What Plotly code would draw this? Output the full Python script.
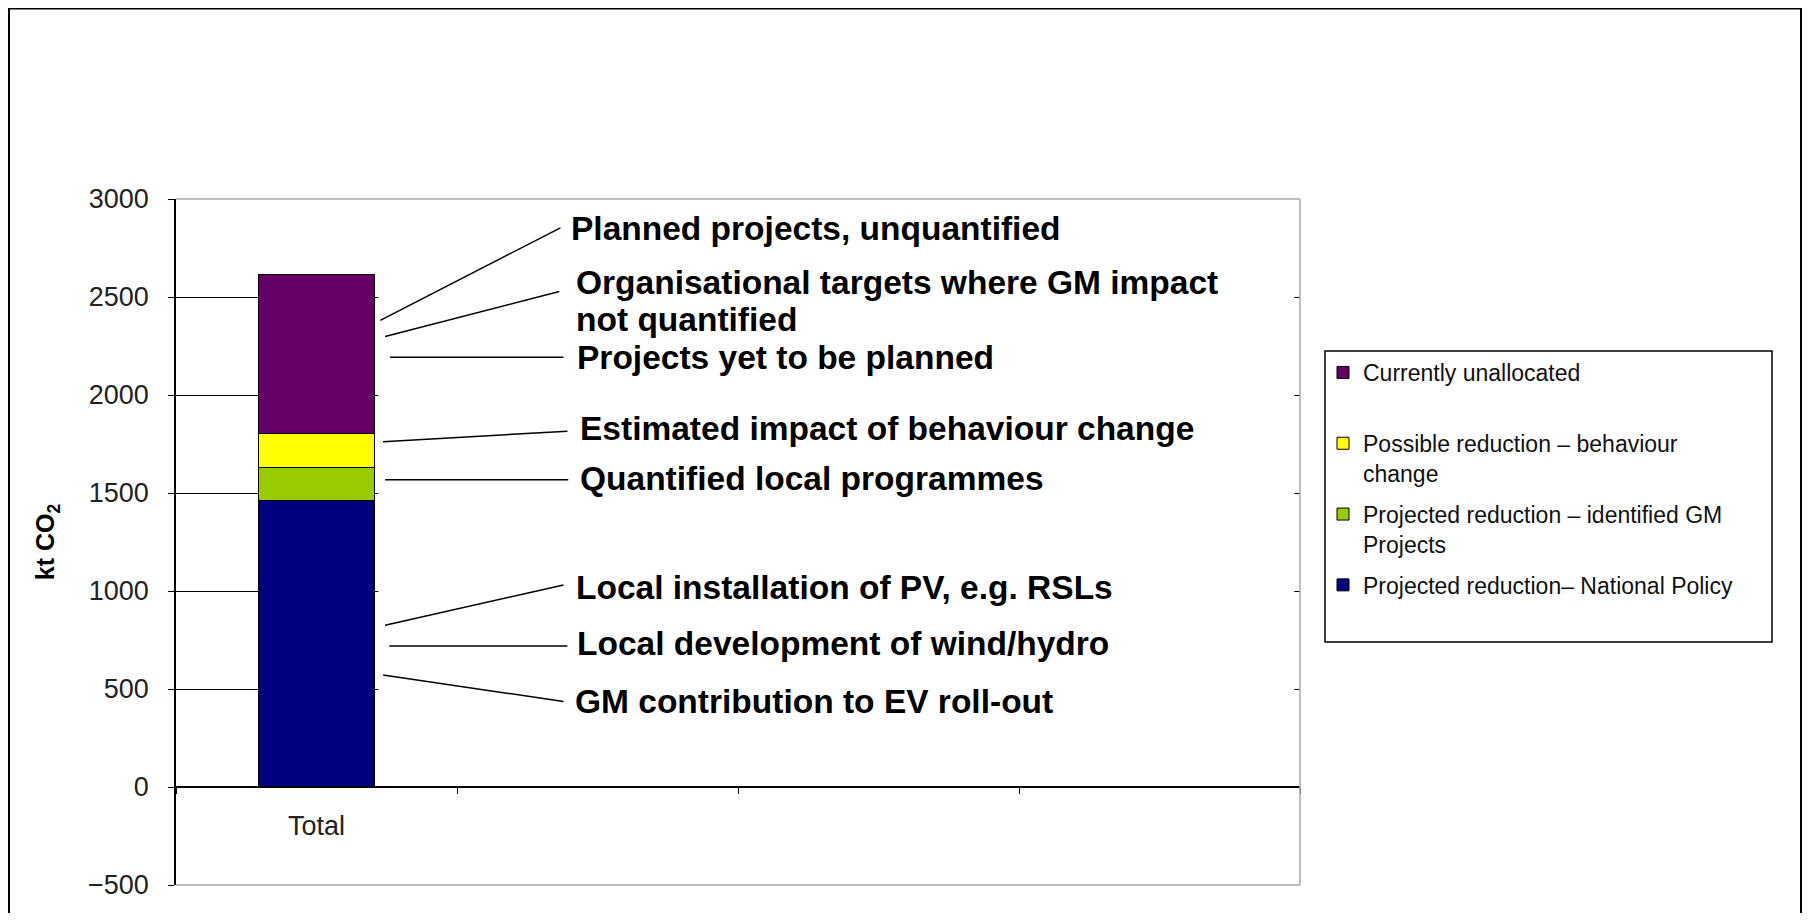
import plotly.graph_objects as go

# ---------------- data ----------------
categories = ["Total", " ", "  ", "   "]
series_names = [
    "Projected reduction– National Policy",
    "Projected reduction – identified GM<br>Projects",
    "Possible reduction – behaviour<br>change",
    "Currently unallocated<br> ",
]
national_policy = [1460, None, None, None]
gm_projects = [170, None, None, None]
behaviour_change = [175, None, None, None]
unallocated = [810, None, None, None]

y_ticks = [-500, 0, 500, 1000, 1500, 2000, 2500, 3000]

# callout labels: text, label y (kt), leader start y on bar (kt), leader end y (kt)
callout_texts = [
    "Planned projects, unquantified",
    "Organisational targets where GM impact",
    "not quantified",
    "Projects yet to be planned",
    "Estimated impact of behaviour change",
    "Quantified local programmes",
    "Local installation of PV, e.g. RSLs",
    "Local development of wind/hydro",
    "GM contribution to EV roll-out",
]
callout_label_y = [2847, 2576, 2385, 2192, 1827, 1574, 1020, 731, 436]
callout_label_x = [0.900, 0.918, 0.918, 0.921, 0.932, 0.932, 0.918, 0.921, 0.914]
leader_y0 = [2381, 2299, 2192, 1762, 1568, 825, 719, 572]
leader_y1 = [2853, 2528, 2192, 1815, 1568, 1031, 719, 436]
leader_x0 = [0.227, 0.244, 0.262, 0.237, 0.244, 0.244, 0.259, 0.237]
leader_x1 = [0.868, 0.864, 0.879, 0.893, 0.896, 0.879, 0.893, 0.879]

colors = ["#000080", "#99CC00", "#FFFF00", "#660066"]
legend_ranks = [4, 3, 2, 1]
series_values = [national_policy, gm_projects, behaviour_change, unallocated]

# ---------------- figure ----------------
fig = go.Figure()
for i, (name, vals, col, rk) in enumerate(zip(series_names, series_values, colors, legend_ranks)):
    fig.add_trace(go.Bar(
        x=categories, y=vals, name=name,
        marker=dict(color=col, line=dict(color="black", width=1)),
        width=0.41, legendgroup=f"g{rk}", legendrank=rk,
    ))

font_family = "Liberation Sans, Arial, sans-serif"

# figure fits inside the page's 8px body margin
FW, FH = 1798, 905
L, T, W, H = 168, 191, 1124, 686


def px_x(fx):
    return (fx - L) / W


def px_y(fy):
    return 1 - (fy - T) / H


fig.update_layout(
    barmode="stack",
    width=FW, height=FH,
    margin=dict(l=L, r=FW - L - W, t=T, b=FH - T - H),
    plot_bgcolor="white", paper_bgcolor="white",
    font=dict(family=font_family, color="black"),
    showlegend=True,
    legend=dict(
        x=px_x(1315), y=px_y(343),
        xanchor="left", yanchor="top",
        borderwidth=0, bgcolor="rgba(0,0,0,0)",
        font=dict(size=23, family=font_family, color="#111"),
        traceorder="grouped", valign="top",
        tracegroupgap=8, itemwidth=30,
    ),
)

fig.update_yaxes(
    range=[-500, 3000], tickvals=y_ticks,
    showgrid=True, gridcolor="black", gridwidth=1,
    showline=True, linecolor="black", linewidth=1.5,
    ticks="outside", ticklen=6, tickcolor="black",
    tickfont=dict(size=27, color="#222"),
    ticklabelstandoff=14,
    zeroline=False,
    title=dict(text="<b>kt CO<sub>2</sub></b>", font=dict(size=25), standoff=26),
)
fig.update_xaxes(
    type="category", range=[-0.5, 3.5],
    anchor="free", position=500 / 3500,
    showline=True, linecolor="black", linewidth=1.5,
    ticks="outside", tickson="boundaries", ticklen=6, tickcolor="black",
    tickfont=dict(size=27, color="#222"),
    ticklabelstandoff=15,
    showgrid=False,
)

shapes = []
# white panel hiding gridlines to the right of the bar
shapes.append(dict(type="rect", xref="x", yref="y", x0=0.22, x1=3.48, y0=100, y1=2900,
                   fillcolor="white", line=dict(width=0), layer="between"))
# grey plot-area border (top, right, bottom)
for (x0, y0, x1, y1) in [(0, 1, 1, 1), (1, 0, 1, 1), (0, 0, 1, 0)]:
    shapes.append(dict(type="line", xref="paper", yref="paper", x0=x0, y0=y0, x1=x1, y1=y1,
                       line=dict(color="#a8a8a8", width=1.5), layer="above"))
# outer chart frame
shapes.append(dict(type="rect", xref="paper", yref="paper",
                   x0=px_x(1), x1=px_x(1793),
                   y0=-0.1, y1=px_y(0.5),
                   line=dict(color="black", width=2), fillcolor="rgba(0,0,0,0)", layer="above"))
# legend box
shapes.append(dict(type="rect", xref="paper", yref="paper",
                   x0=px_x(1317), x1=px_x(1764), y0=px_y(634), y1=px_y(343),
                   line=dict(color="black", width=1.5), fillcolor="rgba(0,0,0,0)", layer="above"))
# leader lines
for xa, ya, xb, yb in zip(leader_x0, leader_y0, leader_x1, leader_y1):
    shapes.append(dict(type="line", xref="x", yref="y", x0=xa, y0=ya, x1=xb, y1=yb,
                       line=dict(color="black", width=1.5), layer="above"))
fig.update_layout(shapes=shapes)

annotations = []
for txt, xx, yy in zip(callout_texts, callout_label_x, callout_label_y):
    annotations.append(dict(
        text=f"<b>{txt}</b>", x=xx, y=yy, xref="x", yref="y",
        xanchor="left", yanchor="middle", showarrow=False,
        font=dict(size=33.5, family=font_family, color="black"),
    ))
fig.update_layout(annotations=annotations)

fig.write_html("out.html")
